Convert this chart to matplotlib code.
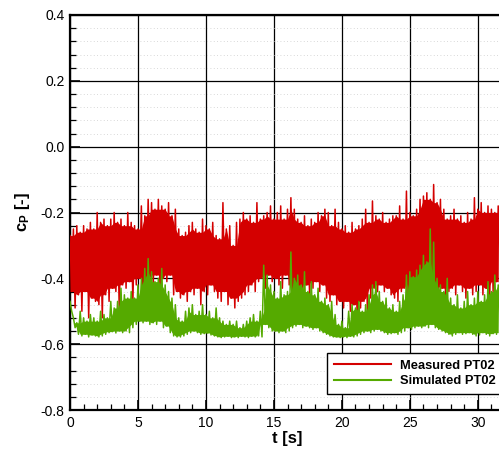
import numpy as np
import matplotlib
matplotlib.use("Agg")
import matplotlib.pyplot as plt
from matplotlib.ticker import MultipleLocator, FormatStrFormatter

# --- data (peak / trough every 0.25 s) ---
DT = 0.25

measured_hi = [
    -0.27, -0.25, -0.24, -0.26, -0.24, -0.25, -0.23, -0.25,
    -0.20, -0.23, -0.22, -0.24, -0.22, -0.20, -0.23, -0.22,
    -0.24, -0.20, -0.23, -0.24, -0.25, -0.18, -0.21, -0.16,
    -0.17, -0.19, -0.16, -0.18, -0.19, -0.17, -0.21, -0.19,
    -0.25, -0.27, -0.26, -0.24, -0.23, -0.25, -0.26, -0.22,
    -0.24, -0.25, -0.23, -0.27, -0.28, -0.17, -0.25, -0.24,
    -0.30, -0.23, -0.22, -0.20, -0.22, -0.21, -0.23, -0.17,
    -0.22, -0.21, -0.20, -0.18, -0.22, -0.20, -0.18, -0.22,
    -0.19, -0.155, -0.19, -0.22, -0.23, -0.21, -0.24, -0.22,
    -0.23, -0.20, -0.21, -0.19, -0.20, -0.24, -0.19, -0.23,
    -0.25, -0.24, -0.26, -0.23, -0.25, -0.24, -0.22, -0.19,
    -0.23, -0.165, -0.21, -0.22, -0.20, -0.23, -0.22, -0.21,
    -0.21, -0.18, -0.22, -0.135, -0.20, -0.21, -0.19, -0.16,
    -0.15, -0.14, -0.16, -0.115, -0.17, -0.16, -0.19, -0.22,
    -0.21, -0.19, -0.22, -0.21, -0.23, -0.20, -0.22, -0.155,
    -0.19, -0.17, -0.20, -0.18, -0.19, -0.20, -0.18,
]
measured_lo = [
    -0.44, -0.49, -0.45, -0.50, -0.44, -0.52, -0.46, -0.47,
    -0.48, -0.52, -0.45, -0.47, -0.43, -0.44, -0.50, -0.42,
    -0.43, -0.41, -0.47, -0.42, -0.40, -0.46, -0.41, -0.40,
    -0.42, -0.39, -0.44, -0.40, -0.41, -0.39, -0.45, -0.44,
    -0.46, -0.45, -0.47, -0.44, -0.45, -0.43, -0.48, -0.44,
    -0.45, -0.42, -0.44, -0.46, -0.47, -0.44, -0.48, -0.46,
    -0.49, -0.47, -0.46, -0.45, -0.44, -0.42, -0.44, -0.41,
    -0.40, -0.43, -0.39, -0.41, -0.40, -0.42, -0.43, -0.39,
    -0.42, -0.45, -0.43, -0.47, -0.44, -0.42, -0.45, -0.43,
    -0.41, -0.44, -0.42, -0.46, -0.47, -0.45, -0.48, -0.47,
    -0.49, -0.47, -0.50, -0.48, -0.52, -0.49, -0.47, -0.50,
    -0.46, -0.43, -0.44, -0.42, -0.44, -0.43, -0.45, -0.46,
    -0.47, -0.44, -0.43, -0.48, -0.42, -0.44, -0.41, -0.46,
    -0.48, -0.45, -0.49, -0.42, -0.44, -0.43, -0.45, -0.44,
    -0.43, -0.45, -0.42, -0.44, -0.46, -0.43, -0.45, -0.44,
    -0.42, -0.45, -0.43, -0.46, -0.44, -0.41, -0.45,
]
simulated_hi = [
    -0.47, -0.52, -0.535, -0.50, -0.52, -0.53, -0.51, -0.52,
    -0.53, -0.50, -0.51, -0.52, -0.47, -0.49, -0.47, -0.43,
    -0.45, -0.46, -0.44, -0.46, -0.42, -0.40, -0.37, -0.34,
    -0.38, -0.41, -0.40, -0.37, -0.42, -0.44, -0.46, -0.48,
    -0.52, -0.53, -0.50, -0.49, -0.48, -0.51, -0.50, -0.48,
    -0.51, -0.50, -0.52, -0.49, -0.52, -0.53, -0.54, -0.53,
    -0.54, -0.53, -0.55, -0.54, -0.53, -0.52, -0.51, -0.53,
    -0.50, -0.36, -0.39, -0.42, -0.44, -0.46, -0.41, -0.45,
    -0.44, -0.32, -0.40, -0.39, -0.42, -0.38, -0.44, -0.41,
    -0.45, -0.43, -0.47, -0.46, -0.48, -0.47, -0.51, -0.54,
    -0.53, -0.55, -0.50, -0.48, -0.49, -0.47, -0.50, -0.48,
    -0.45, -0.42, -0.41, -0.44, -0.47, -0.46, -0.49, -0.48,
    -0.50, -0.47, -0.45, -0.39, -0.38, -0.395, -0.375, -0.36,
    -0.33, -0.35, -0.25, -0.29, -0.40, -0.42, -0.44, -0.40,
    -0.46, -0.48, -0.45, -0.49, -0.47, -0.44, -0.48, -0.46,
    -0.44, -0.47, -0.45, -0.41, -0.44, -0.39, -0.42,
]
simulated_lo = [
    -0.50, -0.55, -0.57, -0.575, -0.57, -0.578, -0.572, -0.575,
    -0.578, -0.575, -0.57, -0.565, -0.562, -0.566, -0.56, -0.565,
    -0.56, -0.565, -0.55, -0.54, -0.53, -0.535, -0.53, -0.54,
    -0.535, -0.54, -0.53, -0.55, -0.545, -0.565, -0.575, -0.578,
    -0.578, -0.575, -0.57, -0.565, -0.56, -0.565, -0.57, -0.568,
    -0.566, -0.572, -0.575, -0.578, -0.58, -0.578, -0.576, -0.58,
    -0.578, -0.58, -0.576, -0.578, -0.58, -0.576, -0.578, -0.575,
    -0.578, -0.54, -0.55, -0.56, -0.56, -0.565, -0.56, -0.565,
    -0.56, -0.55, -0.545, -0.54, -0.55, -0.545, -0.55, -0.555,
    -0.55, -0.56, -0.565, -0.57, -0.575, -0.578, -0.578, -0.58,
    -0.578, -0.58, -0.576, -0.578, -0.575, -0.57, -0.565, -0.56,
    -0.565, -0.56, -0.555, -0.56, -0.565, -0.57, -0.568, -0.565,
    -0.57, -0.565, -0.56, -0.55, -0.555, -0.55, -0.545, -0.55,
    -0.545, -0.55, -0.54, -0.55, -0.555, -0.56, -0.565, -0.57,
    -0.575, -0.57, -0.565, -0.57, -0.568, -0.565, -0.57, -0.575,
    -0.572, -0.565, -0.57, -0.575, -0.568, -0.57, -0.565,
]

series_labels = ["Measured PT02", "Simulated PT02"]
series_colors = ["#d40000", "#55aa00"]


def zigzag(hi, lo):
    """Alternate peak and trough samples so the trace reads as a noisy band."""
    t = np.arange(len(hi)) * DT
    x = np.empty(2 * len(hi))
    y = np.empty(2 * len(hi))
    x[0::2] = t
    x[1::2] = t + DT / 2
    y[0::2] = hi
    y[1::2] = lo
    return x, y


def core(hi, lo):
    # solid middle of the band: lowest neighbouring peak / highest neighbouring trough
    hp = np.pad(np.asarray(hi), 1, mode='edge')
    lp = np.pad(np.asarray(lo), 1, mode='edge')
    top = np.minimum(np.minimum(hp[:-2], hp[1:-1]), hp[2:])
    bot = np.maximum(np.maximum(lp[:-2], lp[1:-1]), lp[2:])
    return top, np.minimum(bot, top)


plt.rcParams['font.family'] = ['Liberation Sans', 'DejaVu Sans']
plt.rcParams['axes.unicode_minus'] = False
plt.rcParams['mathtext.fontset'] = 'custom'
plt.rcParams['mathtext.rm'] = 'Liberation Sans:bold'
plt.rcParams['mathtext.it'] = 'Liberation Sans:bold'

fig = plt.figure(figsize=(4.99, 4.5), dpi=100)
ax = fig.add_axes([70 / 499, 40 / 450, 435 / 499, 395 / 450])

series = [(measured_hi, measured_lo), (simulated_hi, simulated_lo)]
for (hi, lo), lab, col in zip(series, series_labels, series_colors):
    t = np.arange(len(hi)) * DT
    top, bot = core(hi, lo)
    ax.fill_between(t, bot, top, color=col, lw=0, zorder=3)
    x, y = zigzag(hi, lo)
    ax.plot(x, y, color=col, lw=1.1, label=lab, zorder=3)

ax.set_xlim(0, 32)
ax.set_ylim(-0.8, 0.4)

ax.xaxis.set_major_locator(MultipleLocator(5))
ax.xaxis.set_minor_locator(MultipleLocator(1))
ax.yaxis.set_major_locator(MultipleLocator(0.2))
ax.yaxis.set_minor_locator(MultipleLocator(0.04))
ax.yaxis.set_major_formatter(FormatStrFormatter('%.1f'))

ax.tick_params(which='major', direction='in', length=7, width=1.2,
               labelsize=10, pad=4, colors='black')
ax.tick_params(which='minor', direction='in', length=4, width=0.9)

ax.grid(which='major', color='black', lw=0.9, zorder=1)
ax.grid(which='minor', axis='y', color='#cccccc', lw=0.6, ls=(0, (1, 3)), zorder=1)
ax.set_axisbelow(True)

for spine in ax.spines.values():
    spine.set_linewidth(1.6)

ax.set_xlabel('t [s]', fontsize=12, fontweight='bold', labelpad=1)
ax.set_ylabel(r'$c_P$ [-]', fontsize=12, fontweight='bold', labelpad=6)

leg = ax.legend(loc='upper left', bbox_to_anchor=(321 / 499, 1 - 347 / 450),
                bbox_transform=fig.transFigure, fancybox=False, framealpha=1,
                edgecolor='black', handlelength=4.4, handletextpad=0.7,
                borderpad=0.5, labelspacing=0.25, prop={'weight': 'bold', 'size': 9.3})
leg.get_frame().set_linewidth(1.0)
for line in leg.get_lines():
    line.set_linewidth(1.5)

fig.savefig('out.png', dpi=100)
